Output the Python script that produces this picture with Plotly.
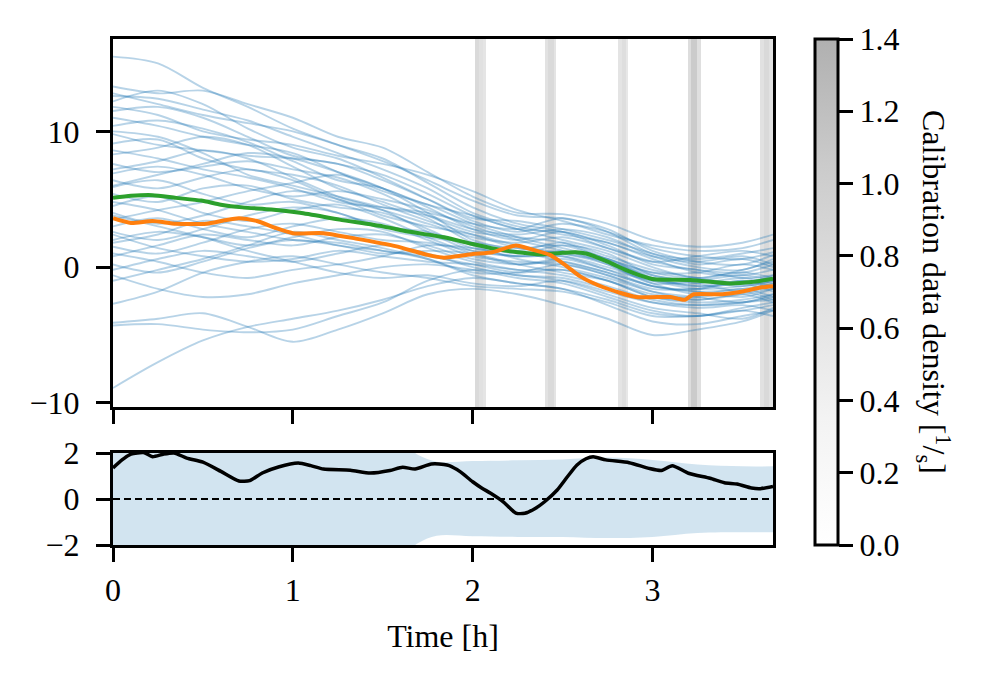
import plotly.graph_objects as go

# ---------------- data ----------------
t_grid = [0, 0.25, 0.5, 0.75, 1.0, 1.25, 1.5, 1.75, 2.0, 2.25, 2.5, 2.75, 3.0, 3.25, 3.5, 3.67]

ensemble = [
    [15.5, 15.0, 13.2, 11.8, 10.2, 9.0, 7.8, 6.4, 4.9, 3.8, 3.6, 2.8, 1.2, 0.4, 0.2, 0.9],
    [13.3, 12.8, 13.0, 12.0, 11.0, 9.6, 8.8, 7.0, 5.2, 4.0, 3.9, 3.2, 2.0, 1.5, 1.8, 2.4],
    [12.6, 12.4, 11.6, 10.8, 9.6, 8.4, 7.2, 5.8, 4.0, 3.0, 2.4, 1.8, 0.6, -0.4, -0.6, -0.2],
    [12.2, 13.0, 12.0, 10.2, 8.8, 8.0, 6.6, 5.0, 3.4, 2.6, 3.2, 2.6, 1.4, 0.8, 0.6, 1.1],
    [11.5, 11.8, 11.0, 9.6, 8.2, 7.6, 6.8, 5.4, 3.8, 2.8, 2.0, 1.2, 0.0, -0.8, -0.4, -0.8],
    [11.0, 10.4, 9.6, 9.0, 8.4, 7.0, 5.6, 4.6, 3.2, 2.2, 1.4, 0.6, -0.8, -1.4, -1.0, -1.4],
    [10.4, 10.8, 10.2, 9.2, 7.8, 6.4, 5.8, 4.4, 2.8, 2.0, 2.6, 1.6, 0.2, -0.2, -0.8, -0.6],
    [9.8, 9.0, 8.6, 8.2, 8.0, 7.6, 6.4, 5.0, 3.6, 3.4, 2.8, 2.0, 1.0, 0.2, 0.6, 0.0],
    [9.1, 9.4, 8.0, 7.2, 6.8, 6.0, 4.6, 3.4, 2.4, 1.4, 1.0, 0.2, -1.2, -2.0, -1.6, -2.2],
    [8.3, 8.8, 9.6, 9.0, 7.4, 5.8, 4.8, 3.6, 1.8, 1.0, 1.6, 1.0, -0.6, -1.0, -1.4, -1.0],
    [7.6, 7.0, 7.4, 7.8, 7.2, 6.6, 5.4, 3.8, 2.6, 2.2, 1.8, 0.6, -0.4, -0.4, 0.2, -0.2],
    [6.9, 7.4, 6.8, 5.8, 5.2, 5.6, 5.0, 4.2, 3.0, 2.0, 1.2, 0.4, -0.6, -1.2, -1.8, -1.4],
    [6.4, 5.8, 6.6, 7.2, 6.4, 5.0, 4.2, 3.2, 2.2, 1.8, 2.2, 1.4, 0.4, -0.2, -0.4, 0.2],
    [5.9, 6.4, 5.4, 4.6, 4.8, 4.0, 3.0, 2.6, 1.6, 0.6, 0.0, -0.8, -1.8, -2.4, -2.0, -2.6],
    [5.4, 4.8, 5.8, 6.0, 5.0, 4.4, 4.0, 2.8, 1.4, 1.2, 1.8, 0.8, -0.2, -0.8, -1.2, -0.6],
    [4.5, 5.2, 4.0, 3.4, 4.2, 4.6, 3.6, 2.2, 1.0, 0.2, 0.6, -0.2, -1.4, -1.6, -1.0, -1.6],
    [4.0, 3.2, 3.8, 4.8, 5.6, 5.0, 3.8, 3.0, 2.4, 1.6, 1.0, 0.4, -0.8, -1.4, -1.2, -0.8],
    [3.0, 3.6, 2.8, 2.2, 3.0, 3.6, 3.2, 2.0, 0.8, 0.4, 0.2, -0.6, -1.8, -2.2, -2.6, -2.0],
    [2.6, 2.0, 2.8, 3.8, 4.4, 4.0, 2.8, 2.2, 1.8, 1.4, 1.6, 0.6, -0.4, -0.8, -0.2, 0.4],
    [2.0, 2.6, 2.2, 1.6, 2.2, 2.8, 2.6, 1.4, 0.4, -0.2, -0.6, -1.4, -2.4, -2.8, -2.6, -2.2],
    [1.5, 1.0, 1.8, 2.8, 3.2, 2.6, 2.0, 1.8, 1.2, 0.8, 0.8, 0.0, -1.0, -1.2, -0.8, -1.2],
    [0.8, 1.6, 2.4, 2.0, 1.6, 2.2, 2.4, 1.6, 0.6, 0.2, 0.4, -0.4, -1.4, -1.8, -2.2, -1.6],
    [0.2, -0.4, 0.4, 1.4, 2.0, 1.6, 1.0, 1.2, 1.0, 0.2, -0.4, -1.0, -2.0, -2.2, -1.8, -2.4],
    [-0.2, 0.6, 1.2, 0.8, 0.4, 1.0, 1.6, 1.0, 0.0, -0.6, -0.8, -1.6, -2.6, -3.0, -2.8, -3.2],
    [-1.0, -0.2, 0.6, 1.6, 2.6, 2.0, 1.4, 0.6, -0.4, -0.4, 0.2, -0.6, -1.6, -1.6, -1.2, -1.8],
    [-2.7, -1.8, -0.4, 0.4, 0.8, 0.2, -0.4, -0.8, -1.4, -1.6, -1.8, -2.6, -3.6, -3.6, -3.2, -2.8],
    [-4.1, -3.8, -3.4, -4.4, -5.5, -4.6, -3.4, -2.0, -1.6, -2.0, -2.8, -3.8, -5.0, -4.6, -4.0, -3.2],
    [-8.9, -7.0, -5.4, -4.4, -3.8, -3.2, -2.4, -1.4, -0.8, -1.2, -1.6, -2.4, -3.4, -3.6, -3.2, -3.6],
    [-4.3, -4.2, -4.6, -4.8, -4.6, -3.6, -2.6, -1.0, -0.2, -0.6, -1.0, -2.0, -3.0, -3.4, -3.8, -3.0],
    [-0.6, -1.6, -2.2, -2.0, -1.2, -0.6, 0.0, 0.2, -0.2, -0.8, -1.2, -2.2, -3.2, -3.6, -3.0, -2.6],
    [11.8, 11.2, 10.0, 9.4, 9.0, 8.2, 7.6, 6.8, 5.6, 4.2, 3.4, 2.4, 1.6, 1.2, 1.4, 2.0],
    [10.0, 9.6, 8.4, 6.8, 6.0, 5.2, 4.4, 3.8, 2.8, 2.4, 2.8, 2.2, 0.8, 0.0, -0.2, 0.6],
    [8.6, 8.0, 7.2, 6.6, 5.8, 4.8, 4.4, 4.0, 3.2, 2.8, 3.6, 2.6, 1.0, 0.6, 1.0, 1.4],
    [7.2, 7.8, 8.6, 8.0, 6.6, 5.2, 4.2, 2.6, 1.2, 0.8, 0.8, -0.2, -1.0, -1.6, -1.4, -1.0],
    [3.5, 4.2, 4.8, 5.6, 6.2, 6.8, 5.8, 4.6, 3.8, 2.8, 2.6, 1.8, 0.8, 0.4, 0.8, 0.2],
    [2.4, 1.4, 0.8, 0.4, 0.6, 1.2, 0.8, 0.4, 0.2, -0.2, -0.2, -1.0, -2.2, -2.6, -2.4, -2.0],
    [1.0, 0.4, -0.4, -0.8, -0.2, 0.2, 0.8, 1.6, 1.4, 0.8, 1.2, 0.2, -1.2, -1.0, -0.6, -1.0],
    [6.0, 6.8, 7.6, 8.4, 8.0, 7.0, 5.8, 4.0, 2.0, 1.2, 0.4, -0.4, -1.4, -1.8, -1.6, -1.2],
    [4.8, 4.2, 3.2, 2.6, 2.0, 1.8, 1.2, 0.8, 0.2, -0.4, -0.2, -1.0, -2.2, -2.4, -2.0, -1.6],
    [12.8, 12.0, 11.2, 10.6, 10.0, 9.0, 8.0, 6.2, 4.4, 3.2, 2.6, 1.4, 0.4, 0.8, 1.2, 0.8],
    [1.8, 2.4, 3.4, 3.0, 2.4, 1.6, 1.2, 0.6, -0.6, -1.2, -1.6, -2.8, -4.0, -4.2, -3.6, -3.2],
    [3.8, 3.0, 2.2, 1.2, 0.4, -0.4, -0.8, -0.6, -1.2, -1.4, -1.0, -1.8, -2.6, -2.8, -2.6, -2.4],
]

mean_t = [0, 0.1, 0.22, 0.35, 0.49, 0.6, 0.72, 0.88, 1.04, 1.26, 1.5, 1.65, 1.84, 2.0, 2.12,
          2.25, 2.38, 2.5, 2.57, 2.63, 2.75, 2.85, 2.93, 3.01, 3.21, 3.43, 3.55, 3.67]
mean_v = [5.1, 5.25, 5.3, 5.1, 4.9, 4.6, 4.4, 4.25, 4.0, 3.5, 3.0, 2.6, 2.2, 1.7, 1.35,
          1.1, 0.95, 1.05, 1.1, 1.0, 0.4, -0.2, -0.6, -0.9, -0.95, -1.2, -1.1, -0.85]

truth_t = [0, 0.1, 0.22, 0.35, 0.52, 0.62, 0.7, 0.8, 0.9, 1.0, 1.17, 1.35, 1.57, 1.75, 1.84,
           2.0, 2.11, 2.24, 2.33, 2.43, 2.52, 2.6, 2.73, 2.91, 3.1, 3.15, 3.18, 3.23, 3.39,
           3.5, 3.6, 3.67]
truth_v = [3.6, 3.25, 3.4, 3.2, 3.2, 3.45, 3.6, 3.4, 2.9, 2.5, 2.5, 2.1, 1.55, 0.9, 0.7,
           0.96, 1.1, 1.6, 1.3, 0.9, 0.1, -0.7, -1.5, -2.2, -2.2, -2.35, -2.4, -2.0, -2.0,
           -1.8, -1.5, -1.4]

# calibration data density (bin edges in hours, density per bin)
calib_edges = [0, 2.015, 2.035, 2.06, 2.076, 2.404, 2.42, 2.45, 2.465, 2.81, 2.83, 2.855,
               2.866, 3.20, 3.215, 3.245, 3.27, 3.60, 3.62, 3.645, 3.67]
calib_density = [0, 0.8, 0.68, 0.6, 0, 0.66, 0.8, 0.62, 0, 0.62, 0.74, 0.58, 0, 0.75, 1.05,
                 0.72, 0, 0.68, 0.82, 0.68]

# lower panel: normalised error and band
band_t = [0, 1.6, 1.7, 1.8, 2.0, 2.25, 2.5, 2.75, 3.0, 3.25, 3.5, 3.67]
band_hi = [2.6, 2.4, 1.9, 1.62, 1.65, 1.68, 1.72, 1.8, 1.7, 1.5, 1.42, 1.42]
band_lo = [-2.6, -2.4, -1.9, -1.6, -1.62, -1.65, -1.65, -1.7, -1.65, -1.48, -1.45, -1.45]

err_t = [0, 0.05, 0.1, 0.17, 0.22, 0.28, 0.34, 0.41, 0.5, 0.6, 0.7, 0.76, 0.83, 0.92, 1.03,
         1.1, 1.17, 1.32, 1.43, 1.54, 1.61, 1.68, 1.77, 1.84, 1.87, 1.93, 2.0, 2.05, 2.1,
         2.17, 2.24, 2.29, 2.35, 2.4, 2.47, 2.53, 2.58, 2.63, 2.67, 2.74, 2.87, 2.98, 3.05,
         3.11, 3.2, 3.32, 3.4, 3.47, 3.55, 3.6, 3.67]
err_v = [1.35, 1.7, 1.95, 2.02, 1.84, 1.95, 2.0, 1.78, 1.6, 1.2, 0.78, 0.8, 1.13, 1.39, 1.56,
         1.45, 1.3, 1.25, 1.13, 1.24, 1.38, 1.3, 1.52, 1.5, 1.45, 1.19, 0.75, 0.48, 0.25,
         -0.12, -0.61, -0.62, -0.4, -0.12, 0.39, 1.0, 1.48, 1.75, 1.84, 1.7, 1.58, 1.33, 1.24,
         1.45, 1.12, 0.9, 0.71, 0.65, 0.48, 0.45, 0.55]

x_ticks = [0, 1, 2, 3]
y_ticks_top = [-10, 0, 10]
y_ticks_bot = [-2, 0, 2]
cb_ticks = [0.0, 0.2, 0.4, 0.6, 0.8, 1.0, 1.2, 1.4]

# ---------------- figure ----------------
FONT = "Liberation Serif"
FS = 32
BLUE = "rgba(31,119,180,0.32)"
XR = [0, 3.67]
YR_TOP = [-10.3, 16.8]

fig = go.Figure()

fig.add_trace(go.Heatmap(
    x=calib_edges, y=YR_TOP, z=[calib_density],
    zmin=0, zmax=1.4, zsmooth=False,
    colorscale=[[0, "rgb(255,255,255)"], [0.25, "rgb(243,243,243)"],
                [0.5, "rgb(224,224,224)"], [0.75, "rgb(203,203,203)"],
                [1, "rgb(176,176,176)"]],
    xaxis="x", yaxis="y", hoverinfo="skip",
    colorbar=dict(
        x=815 / 981, xanchor="left", xpad=0, ypad=0,
        y=1 - 292 / 685, yanchor="middle", len=506 / 685, lenmode="fraction",
        thickness=23, thicknessmode="pixels",
        outlinewidth=3, outlinecolor="black",
        ticks="outside", ticklen=14, tickwidth=3, tickcolor="black",
        tickvals=cb_ticks, tickformat=".1f",
        tickfont=dict(family=FONT, size=FS, color="black"),
    ),
))

for line in ensemble:
    fig.add_trace(go.Scatter(x=t_grid, y=line, mode="lines",
                             line=dict(color=BLUE, width=1.9, shape="spline", smoothing=0.9),
                             xaxis="x", yaxis="y", hoverinfo="skip"))

fig.add_trace(go.Scatter(x=mean_t, y=mean_v, mode="lines",
                         line=dict(color="#2ca02c", width=4, shape="spline", smoothing=0.6),
                         xaxis="x", yaxis="y"))
fig.add_trace(go.Scatter(x=truth_t, y=truth_v, mode="lines",
                         line=dict(color="#ff7f0e", width=4, shape="spline", smoothing=0.6),
                         xaxis="x", yaxis="y"))

# lower panel
fig.add_trace(go.Scatter(x=band_t, y=band_lo, mode="lines", line=dict(width=0, shape="spline"),
                         xaxis="x2", yaxis="y2", hoverinfo="skip"))
fig.add_trace(go.Scatter(x=band_t, y=band_hi, mode="lines", line=dict(width=0, shape="spline"),
                         fill="tonexty", fillcolor="rgba(31,119,180,0.2)",
                         xaxis="x2", yaxis="y2", hoverinfo="skip"))
fig.add_hline(y=0, line=dict(color="black", width=2, dash="7px,4px"), xref="x2", yref="y2")
fig.add_trace(go.Scatter(x=err_t, y=err_v, mode="lines",
                         line=dict(color="black", width=3.5, shape="spline", smoothing=0.6),
                         xaxis="x2", yaxis="y2"))

# colour-bar label, reading top to bottom
fig.add_annotation(text="Calibration data density [<sup>1</sup>/<sub>s</sub>]",
                   xref="paper", yref="paper", x=934 / 981, y=1 - 292 / 685,
                   xanchor="center", yanchor="middle", textangle=90, showarrow=False,
                   font=dict(family=FONT, size=FS, color="black"))

axis_common = dict(showline=True, linewidth=3, linecolor="black", mirror=True,
                   ticks="outside", ticklen=14, tickwidth=3, tickcolor="black",
                   showgrid=False, zeroline=False,
                   tickfont=dict(family=FONT, size=FS, color="black"))

XD = [113 / 981, 773 / 981]
fig.update_layout(
    width=981, height=685,
    margin=dict(l=0, r=0, t=0, b=0, autoexpand=False),
    paper_bgcolor="white", plot_bgcolor="white",
    showlegend=False,
    font=dict(family=FONT, size=FS, color="black"),
    xaxis=dict(domain=XD, range=XR, tickvals=x_ticks, showticklabels=False,
               anchor="y", **axis_common),
    yaxis=dict(domain=[1 - 407 / 685, 1 - 39 / 685], range=YR_TOP, tickvals=y_ticks_top,
               anchor="x", ticklabelstandoff=10, **axis_common),
    xaxis2=dict(domain=XD, range=XR, tickvals=x_ticks, anchor="y2",
                ticklabelstandoff=1,
                title=dict(text="Time [h]", standoff=18,
                           font=dict(family=FONT, size=FS, color="black")),
                **axis_common),
    yaxis2=dict(domain=[1 - 545 / 685, 1 - 453 / 685], range=[-2, 2], tickvals=y_ticks_bot,
                anchor="x2", ticklabelstandoff=10, **axis_common),
)

fig.write_html("out.html")
